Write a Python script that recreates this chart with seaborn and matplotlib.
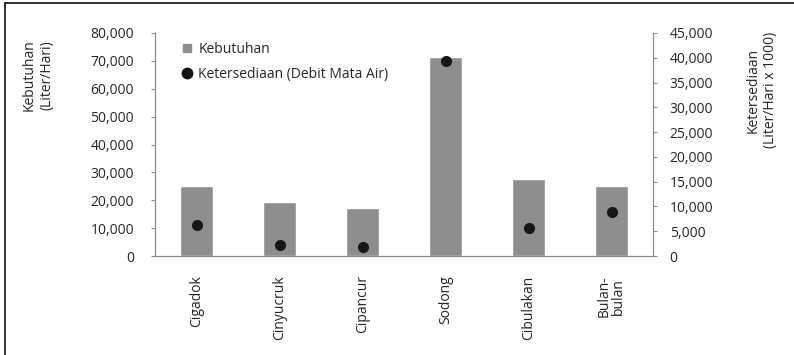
import matplotlib
matplotlib.use("Agg")
import matplotlib.pyplot as plt
from matplotlib.lines import Line2D
import seaborn as sns
import pandas as pd

# Spring sites and their water figures
sites = ["Cigadok", "Cinyucruk", "Cipancur", "Sodong", "Cibulakan", "Bulan-\nbulan"]
kebutuhan = [25200, 19500, 17300, 71500, 27500, 25100]        # Liter/Hari
ketersediaan = [6200, 2300, 1800, 39400, 5600, 8800]         # Liter/Hari x 1000

left_ticks = list(range(0, 80001, 10000))
right_ticks = list(range(0, 45001, 5000))

df = pd.DataFrame({"site": sites, "kebutuhan": kebutuhan, "ketersediaan": ketersediaan})

sns.set_theme(style="white")
plt.rcParams["font.family"] = ["Open Sans", "DejaVu Sans"]

text_c = "#262626"
axis_c = "#8c8c8c"
bar_c = "#8e8e8e"
dot_c = "#161616"
fs = 10

fig = plt.figure(figsize=(7.94, 3.55), dpi=100)
ax = fig.add_axes([155 / 794, 1 - 256 / 355, (653 - 155) / 794, (256 - 33) / 355])
ax2 = ax.twinx()

sns.barplot(data=df, x="site", y="kebutuhan", order=sites, color=bar_c,
            saturation=1, width=0.4, ax=ax, zorder=2)
sns.stripplot(data=df, x="site", y="ketersediaan", order=sites, jitter=False,
              color=dot_c, size=8, linewidth=0, ax=ax2, zorder=3)

for a in (ax, ax2):
    a.set_xlim(-0.5, len(sites) - 0.5)
    a.set_xlabel("")
    a.grid(False)
    a.set_facecolor("none")

ax.set_ylim(0, 80000)
ax.set_yticks(left_ticks)
ax.set_yticklabels([f"{v:,}" for v in left_ticks])
ax2.set_ylim(0, 45000)
ax2.set_yticks(right_ticks)
ax2.set_yticklabels([f"{v:,}" for v in right_ticks])

ax.set_xticks([i + 0.5 for i in range(len(sites) - 1)], minor=True)
ax.set_xticks(range(len(sites)))
ax.set_xticklabels(sites, rotation=90, fontsize=fs, color=text_c, va="top",
                   linespacing=0.95)
ax.tick_params(axis="x", which="major", length=0, pad=14)
ax.tick_params(axis="x", which="minor", length=4, color=axis_c, width=0.8)
ax.tick_params(axis="y", length=3, color=axis_c, width=0.8, labelsize=fs,
               labelcolor=text_c, pad=12, left=True)
ax2.tick_params(axis="y", length=3, color=axis_c, width=0.8, labelsize=fs,
                labelcolor=text_c, pad=9, right=True)
ax2.tick_params(axis="x", bottom=False, labelbottom=False)

for s in ("top", "right"):
    ax.spines[s].set_visible(False)
for s in ("top", "left", "bottom"):
    ax2.spines[s].set_visible(False)
for a, s in ((ax, "left"), (ax, "bottom"), (ax2, "right")):
    a.spines[s].set_color(axis_c)
    a.spines[s].set_linewidth(0.9)

ax.set_ylabel("")
ax2.set_ylabel("")
fig.text(38 / 794, 1 - 75 / 355, "Kebutuhan\n(Liter/Hari)", rotation=90,
         ha="center", va="center", fontsize=10, color=text_c, linespacing=1.2)
fig.text(762 / 794, 1 - 90 / 355, "Ketersediaan\n(Liter/Hari x 1000)", rotation=90,
         ha="center", va="center", fontsize=10, color=text_c, linespacing=1.2)

handles = [
    Line2D([], [], marker="s", linestyle="none", markersize=6, color=bar_c),
    Line2D([], [], marker="o", linestyle="none", markersize=7.5, color=dot_c),
]
leg = ax.legend(handles, ["Kebutuhan", "Ketersediaan (Debit Mata Air)"],
                loc="upper left", bbox_to_anchor=(0.045, 0.985), frameon=False,
                fontsize=fs, labelspacing=0.75, handlelength=0.6,
                handletextpad=0.5, borderaxespad=0)
for t in leg.get_texts():
    t.set_color(text_c)

# outer frame (left and top edges)
fig.add_artist(Line2D([5 / 794, 5 / 794], [0, 1 - 3 / 355], color="#222222", lw=1.3))
fig.add_artist(Line2D([5 / 794, 1], [1 - 3 / 355, 1 - 3 / 355], color="#222222", lw=1.3))

fig.savefig("out.png", dpi=100)
